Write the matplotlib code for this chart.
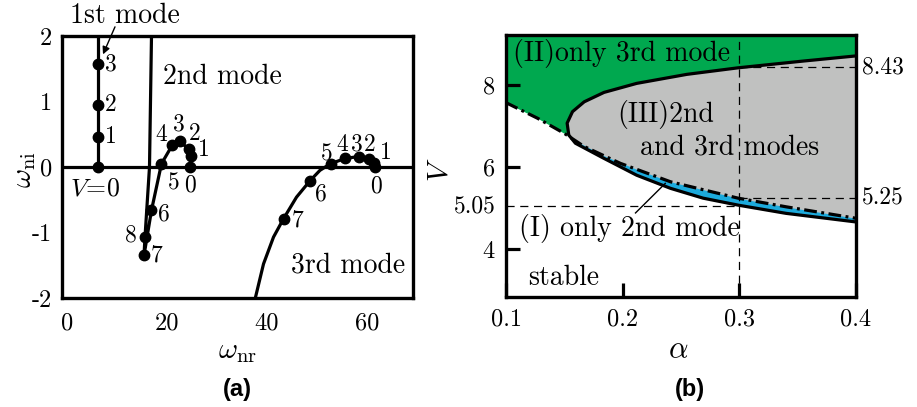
import numpy as np
import matplotlib
matplotlib.use('Agg')
import matplotlib.pyplot as plt

plt.rcParams['font.family'] = 'serif'
plt.rcParams['font.serif'] = ['cmr10']
plt.rcParams['mathtext.fontset'] = 'cm'
plt.rcParams['axes.unicode_minus'] = False

# ---- panel (a): root loci, omega_nr vs omega_ni, labelled by V ----
mode1_wnr = [6.2, 6.2, 6.2, 6.2]
mode1_wni = [0.0, 0.46, 0.95, 1.57]
mode1_V = ['', '1', '2', '3']

mode2_wnr = [24.6, 24.8, 24.4, 22.6, 21.1, 18.9, 16.9, 15.4, 15.6]
mode2_wni = [0.0, 0.17, 0.27, 0.39, 0.34, 0.05, -0.66, -1.35, -1.07]
mode2_V = ['0', '1', '2', '3', '4', '5', '6', '7', '8']
# continuation of the 2nd mode branch beyond V=8
mode2_tail_wnr = [15.6, 16.5, 16.9]
mode2_tail_wni = [-1.07, 0.0, 2.0]

mode3_wnr = [61.6, 61.3, 60.3, 58.3, 55.6, 52.7, 48.6, 43.3]
mode3_wni = [0.0, 0.06, 0.12, 0.16, 0.13, 0.05, -0.21, -0.79]
mode3_V = ['0', '1', '2', '3', '4', '5', '6', '7']
# traced curve of the 3rd mode between the markers and below V=7
mode3_curve_wnr = [61.6, 61.3, 60.3, 58.3, 55.6, 52.7, 50.6, 48.6, 45.9, 43.3,
                   41.3, 39.3, 37.6]
mode3_curve_wni = [0.0, 0.06, 0.12, 0.16, 0.13, 0.05, -0.05, -0.21, -0.46, -0.79,
                   -1.07, -1.48, -2.02]

# ---- panel (b): stability map in alpha-V plane ----
nose_alpha = [0.4, 0.355, 0.299, 0.255, 0.212, 0.184, 0.167, 0.157, 0.1524,
              0.1538, 0.1595, 0.184, 0.212, 0.241, 0.269, 0.299, 0.34, 0.4]
nose_V = [8.71, 8.585, 8.42, 8.26, 8.04, 7.82, 7.59, 7.35, 7.07,
          6.78, 6.58, 6.21, 5.80, 5.48, 5.24, 5.07, 4.87, 4.66]
dd_alpha = [0.1, 0.127, 0.15, 0.167, 0.198, 0.241, 0.299, 0.34, 0.4]
dd_V = [7.57, 7.19, 6.82, 6.50, 6.09, 5.64, 5.24, 5.03, 4.75]
alpha_mark = 0.3
V_marks = [8.43, 5.25, 5.05]

GREEN = '#00a84f'
GRAY = '#c0c1c0'
BLUE = '#1caadc'

fig = plt.figure(figsize=(9.17, 4.07), dpi=100)
ax1 = fig.add_axes([0.0676, 0.2678, 0.3828, 0.6437])
ax2 = fig.add_axes([0.5518, 0.2703, 0.3817, 0.6437])

lw = 2.3
ms = 7.5
num_fs = 17
txt_fs = 20
tick_fs = 17.5

# ----- (a) -----
ax1.axhline(0, color='k', lw=lw, zorder=1)
ax1.plot(mode1_wnr + [6.2], mode1_wni + [2.0], 'k-', lw=lw)
ax1.plot(mode1_wnr, mode1_wni, 'ko', ms=ms)
ax1.plot(mode2_wnr + mode2_tail_wnr[1:], mode2_wni + mode2_tail_wni[1:], 'k-', lw=lw)
ax1.plot(mode2_wnr, mode2_wni, 'ko', ms=ms)
ax1.plot(mode3_curve_wnr, mode3_curve_wni, 'k-', lw=lw)
ax1.plot(mode3_wnr, mode3_wni, 'ko', ms=ms)

# label offsets in points
off1 = [(0, 0), (9, 0), (9, 0), (9, 0)]
off2 = [(0, -13), (9, 4), (4, 11), (-1, 12), (-8, 7), (9, -14), (9, -3), (9, 0), (-10, 1)]
off3 = [(1, -14), (9, 7), (1, 10), (-1, 9), (-2, 10), (-3, 7), (8, -10), (10, -1)]
for xs, ys, labs, offs in [(mode1_wnr, mode1_wni, mode1_V, off1),
                           (mode2_wnr, mode2_wni, mode2_V, off2),
                           (mode3_wnr, mode3_wni, mode3_V, off3)]:
    for x, y, s, o in zip(xs, ys, labs, offs):
        ax1.annotate(s, (x, y), xytext=o, textcoords='offset points',
                     ha='center', va='center', fontsize=num_fs)

ax1.text(5.6, -0.33, r'$V\!=\!0$', fontsize=num_fs + 1.5, ha='center', va='center')
ax1.text(31, 1.38, '2nd mode', fontsize=txt_fs, ha='center', va='center')
ax1.text(56.2, -1.5, '3rd mode', fontsize=txt_fs, ha='center', va='center')
ax1.text(11.6, 2.31, '1st mode', fontsize=txt_fs, ha='center', va='center')
ax1.annotate('', xy=(7.2, 1.72), xytext=(9.6, 2.14), annotation_clip=False,
             arrowprops=dict(arrowstyle='-|>', color='k', lw=1.0,
                             shrinkA=0, shrinkB=0, mutation_scale=11))

ax1.set_xlim(-1, 69.2)
ax1.set_ylim(-2, 2)
ax1.set_xticks([0, 20, 40, 60])
ax1.set_yticks([-2, -1, 0, 1, 2])
ax1.set_yticklabels(['-2', '-1', '0', '1', '2'])
ax1.tick_params(length=0, labelsize=tick_fs)
ax1.tick_params(axis='x', pad=10)
ax1.tick_params(axis='y', pad=7)
ax1.set_xlabel(r'$\omega_{\rm nr}$', fontsize=21)
ax1.set_ylabel(r'$\omega_{\rm ni}$', fontsize=21)
ax1.xaxis.set_label_coords(0.499, -0.206)
ax1.xaxis.label.set_va('center')
ax1.yaxis.set_label_coords(-0.105, 0.489)
ax1.yaxis.label.set_va('center')

# ----- (b) -----
ytop, ybot = 9.22, 2.83
ax2.fill_between(dd_alpha, dd_V, ytop, color=GREEN, lw=0, zorder=0)
ax2.fill(nose_alpha, nose_V, color=GRAY, lw=0, zorder=0.5)
i0 = int(np.argmin(nose_alpha))
low_a = np.array(nose_alpha[i0:])
low_v = np.array(nose_V[i0:])
dd_on_low = np.interp(low_a, dd_alpha, dd_V)
ax2.fill_between(low_a, low_v, dd_on_low, where=dd_on_low > low_v,
                 interpolate=True, color=BLUE, lw=0, zorder=0.7)
ax2.plot(nose_alpha, nose_V, 'k-', lw=lw, zorder=3)
ax2.plot(dd_alpha, dd_V, color='k', lw=lw, ls=(0, (4, 1.4, 0.9, 1.4)), zorder=3)

dash = (0, (6.5, 4.5))
ax2.plot([alpha_mark, alpha_mark], [ybot, ytop], color='k', lw=0.9, ls=dash, zorder=2)
ax2.plot([alpha_mark, 0.4], [V_marks[0]] * 2, color='k', lw=0.9, ls=dash, zorder=2)
ax2.plot([alpha_mark, 0.4], [V_marks[1]] * 2, color='k', lw=0.9, ls=dash, zorder=2)
ax2.plot([0.1, alpha_mark], [V_marks[2]] * 2, color='k', lw=0.9, ls=dash, zorder=2)
ax2.text(0.405, V_marks[0], '%.2f' % V_marks[0], fontsize=17, ha='left', va='center')
ax2.text(0.405, V_marks[1], '%.2f' % V_marks[1], fontsize=17, ha='left', va='center')
ax2.text(0.0915, V_marks[2], '%.2f' % V_marks[2], fontsize=17, ha='right', va='center')

ax2.text(0.199, 8.78, '(II)only 3rd mode', fontsize=txt_fs, ha='center', va='center')
ax2.text(0.237, 7.27, '(III)2nd', fontsize=txt_fs, ha='center', va='center')
ax2.text(0.292, 6.49, 'and 3rd modes', fontsize=txt_fs, ha='center', va='center')
ax2.text(0.206, 4.51, '(I) only 2nd mode', fontsize=txt_fs, ha='center', va='center')
ax2.text(0.149, 3.29, 'stable', fontsize=txt_fs, ha='center', va='center')
ax2.plot([0.211, 0.2365], [4.88, 5.60], 'k-', lw=1.0, zorder=4)

ax2.set_xlim(0.1, 0.4)
ax2.set_ylim(ybot, ytop)
ax2.set_xticks([0.1, 0.2, 0.3, 0.4])
ax2.set_xticklabels(['0.1', '0.2', '0.3', '0.4'])
ax2.set_yticks([4, 6, 8])
ax2.set_yticklabels(['4', '6', '8'])
ax2.tick_params(direction='in', length=10, width=2.3, labelsize=tick_fs)
ax2.tick_params(axis='x', pad=8)
ax2.tick_params(axis='y', pad=8)
ax2.set_xlabel(r'$\alpha$', fontsize=22)
ax2.set_ylabel(r'$V$', fontsize=21)
ax2.xaxis.set_label_coords(0.491, -0.202)
ax2.xaxis.label.set_va('center')
ax2.yaxis.set_label_coords(-0.189, 0.485)
ax2.yaxis.label.set_va('center')

for ax in (ax1, ax2):
    for sp in ax.spines.values():
        sp.set_linewidth(2.4)
        sp.set_zorder(5)

fig.text(0.2585, 0.042, '(a)', fontsize=17, fontweight='bold',
         family='Liberation Sans', ha='center', va='center')
fig.text(0.7524, 0.042, '(b)', fontsize=17, fontweight='bold',
         family='Liberation Sans', ha='center', va='center')

fig.savefig('out.png', dpi=100)
